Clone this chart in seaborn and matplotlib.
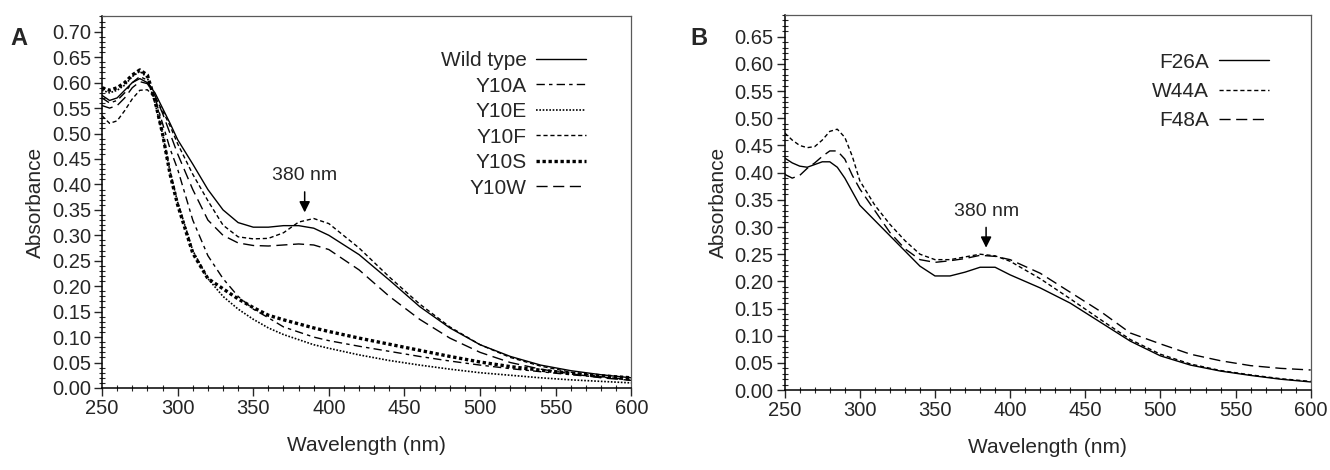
import pandas as pd
import matplotlib
matplotlib.use("Agg")
import matplotlib.pyplot as plt
from matplotlib.ticker import MultipleLocator, FormatStrFormatter
import seaborn as sns

# wavelength grid (nm) shared by all spectra
wavelength = [250, 255, 260, 265, 270, 275, 280, 285, 290, 295, 300, 310, 320, 330,
              340, 350, 360, 370, 380, 390, 400, 420, 440, 460, 480, 500, 520, 540,
              560, 580, 600]

# panel A: Y10 variants
wild_type = [0.575, 0.565, 0.570, 0.585, 0.600, 0.608, 0.600, 0.580, 0.550, 0.520, 0.488,
             0.440, 0.390, 0.350, 0.325, 0.316, 0.316, 0.319, 0.319, 0.314, 0.300, 0.262,
             0.212, 0.160, 0.118, 0.085, 0.062, 0.045, 0.034, 0.026, 0.020]
y10a = [0.570, 0.560, 0.565, 0.580, 0.600, 0.612, 0.605, 0.570, 0.520, 0.470, 0.430,
        0.330, 0.260, 0.215, 0.180, 0.155, 0.138, 0.120, 0.110, 0.100, 0.093, 0.082,
        0.072, 0.062, 0.053, 0.045, 0.038, 0.032, 0.026, 0.021, 0.017]
y10e = [0.585, 0.580, 0.585, 0.595, 0.612, 0.622, 0.610, 0.560, 0.500, 0.425, 0.365,
        0.270, 0.215, 0.180, 0.155, 0.135, 0.118, 0.105, 0.095, 0.085, 0.078, 0.065,
        0.054, 0.045, 0.037, 0.030, 0.025, 0.020, 0.016, 0.013, 0.010]
y10f = [0.535, 0.520, 0.525, 0.545, 0.568, 0.585, 0.586, 0.570, 0.545, 0.515, 0.480,
        0.420, 0.368, 0.320, 0.297, 0.293, 0.294, 0.305, 0.326, 0.333, 0.323, 0.275,
        0.218, 0.165, 0.120, 0.085, 0.060, 0.043, 0.031, 0.022, 0.015]
y10s = [0.590, 0.585, 0.590, 0.600, 0.615, 0.625, 0.615, 0.565, 0.500, 0.420, 0.360,
        0.265, 0.215, 0.195, 0.175, 0.158, 0.143, 0.134, 0.126, 0.118, 0.111, 0.098,
        0.086, 0.074, 0.062, 0.051, 0.042, 0.035, 0.029, 0.024, 0.020]
y10w = [0.555, 0.550, 0.555, 0.570, 0.590, 0.602, 0.598, 0.575, 0.540, 0.500, 0.460,
        0.390, 0.330, 0.300, 0.285, 0.280, 0.279, 0.281, 0.283, 0.281, 0.272, 0.232,
        0.180, 0.135, 0.098, 0.070, 0.050, 0.037, 0.028, 0.020, 0.015]

# panel B: other aromatic mutants
f26a = [0.427, 0.418, 0.412, 0.410, 0.415, 0.420, 0.420, 0.410, 0.390, 0.365, 0.340,
        0.312, 0.284, 0.256, 0.228, 0.210, 0.210, 0.217, 0.226, 0.226, 0.212, 0.188,
        0.160, 0.125, 0.090, 0.063, 0.046, 0.035, 0.027, 0.020, 0.015]
w44a = [0.473, 0.460, 0.450, 0.446, 0.448, 0.460, 0.476, 0.480, 0.465, 0.430, 0.385,
        0.340, 0.305, 0.275, 0.250, 0.240, 0.240, 0.245, 0.250, 0.247, 0.237, 0.205,
        0.168, 0.130, 0.093, 0.066, 0.048, 0.036, 0.028, 0.021, 0.016]
f48a = [0.397, 0.390, 0.395, 0.408, 0.418, 0.430, 0.440, 0.440, 0.425, 0.395, 0.370,
        0.330, 0.290, 0.260, 0.240, 0.235, 0.238, 0.242, 0.248, 0.246, 0.240, 0.215,
        0.180, 0.145, 0.105, 0.085, 0.066, 0.054, 0.045, 0.040, 0.037]

panel_a = [("Wild type", wild_type, "-", 1.0),
           ("Y10A", y10a, (0, (6, 3, 2.5, 3)), 1.0),
           ("Y10E", y10e, (0, (1, 1)), 1.2),
           ("Y10F", y10f, (0, (3, 2)), 1.0),
           ("Y10S", y10s, (0, (1, 0.8)), 2.4),
           ("Y10W", y10w, (0, (8, 4)), 1.0)]
panel_b = [("F26A", f26a, "-", 1.0),
           ("W44A", w44a, (0, (3, 2)), 1.0),
           ("F48A", f48a, (0, (8, 4)), 1.0)]


def style_axes(ax, ytop):
    ax.set_xlim(250, 600)
    ax.set_ylim(0, ytop)
    ax.xaxis.set_major_locator(MultipleLocator(50))
    ax.xaxis.set_minor_locator(MultipleLocator(10))
    ax.yaxis.set_major_locator(MultipleLocator(0.05))
    ax.yaxis.set_minor_locator(MultipleLocator(0.01))
    ax.yaxis.set_major_formatter(FormatStrFormatter("%.2f"))
    ax.tick_params(which="major", direction="out", length=6, width=1, labelsize=14.5, pad=2)
    ax.tick_params(which="minor", direction="inout", length=5, width=0.8)
    for side in ["left", "bottom"]:
        ax.spines[side].set_color("black")
        ax.spines[side].set_linewidth(1.1)
    for side in ["top", "right"]:
        ax.spines[side].set_color("0.35")
        ax.spines[side].set_linewidth(0.9)
    ax.set_xlabel("Wavelength (nm)", fontsize=15, labelpad=13)
    ax.set_ylabel("Absorbance", fontsize=15, labelpad=5)


def draw_panel(ax, series, ytop, legend_anchor, spacing, arrow_tip, text_y):
    for name, values, ls, lw in series:
        sns.lineplot(x=wavelength, y=values, ax=ax, color="black", linestyle=ls,
                     linewidth=lw, label=name)
    style_axes(ax, ytop)
    ax.legend(loc="upper right", bbox_to_anchor=legend_anchor, frameon=False,
              markerfirst=False, fontsize=15, handlelength=2.4, handletextpad=0.45,
              labelspacing=spacing, borderpad=0, borderaxespad=0)
    ax.annotate("380 nm", xy=(384, arrow_tip), xytext=(384, text_y), ha="center",
                va="bottom", fontsize=14,
                arrowprops=dict(arrowstyle="-|>", color="black", lw=1.1,
                                mutation_scale=16, shrinkA=3, shrinkB=0))


def main():
    sns.set_theme(style="ticks")
    plt.rcParams["font.family"] = ["Liberation Sans", "DejaVu Sans"]

    fig = plt.figure(figsize=(13.3, 4.7), dpi=100)
    ax_a = fig.add_axes([0.0767, 0.1745, 0.398, 0.7915])
    ax_b = fig.add_axes([0.590, 0.170, 0.3955, 0.798])

    draw_panel(ax_a, panel_a, 0.731, (0.915, 0.905), 0.31, 0.345, 0.40)
    draw_panel(ax_b, panel_b, 0.69, (0.92, 0.90), 0.5, 0.262, 0.313)

    fig.text(0.008, 0.905, "A", fontsize=17, fontweight="bold")
    fig.text(0.519, 0.905, "B", fontsize=17, fontweight="bold")

    fig.savefig("out.png", dpi=100, facecolor="white")


if __name__ == "__main__":
    main()
